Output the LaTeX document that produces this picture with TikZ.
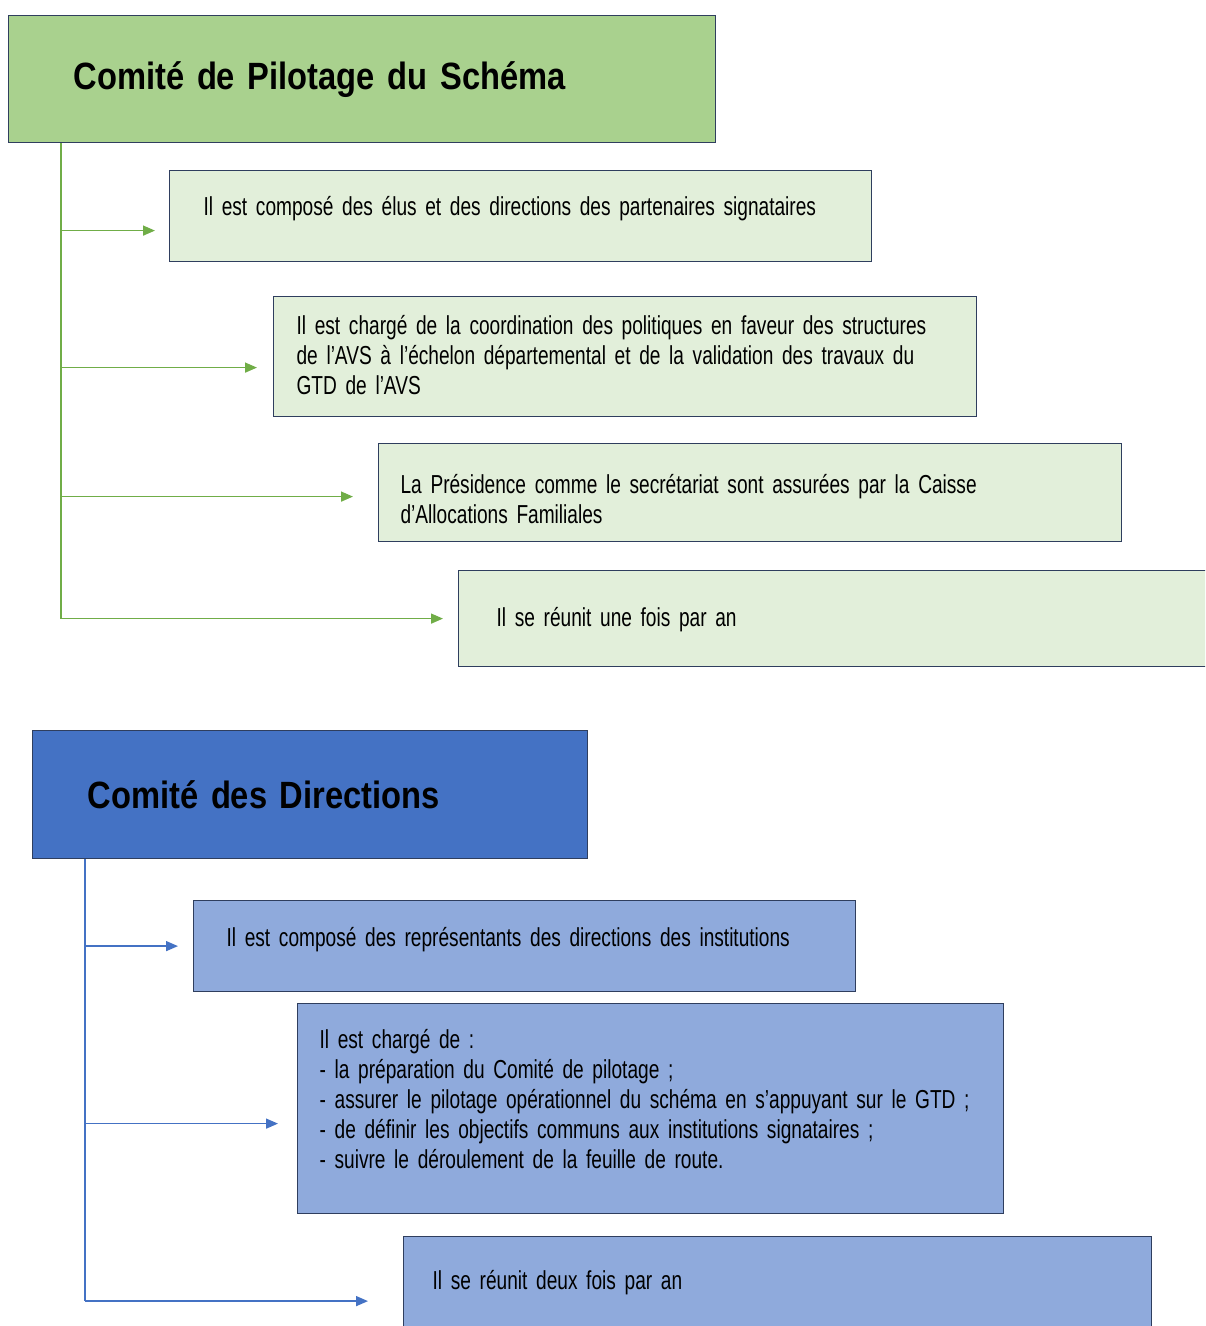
\documentclass[tikz,border=0pt]{standalone}
\usepackage{fontspec}
\newfontfamily\bodyfont{Liberation Sans}[FakeStretch=0.735]
\newfontfamily\titlefont{Liberation Sans}[FakeStretch=0.86]
\newcommand\bodytext{\bodyfont\fontsize{13}{15}\selectfont}
\newcommand\titletext{\titlefont\bfseries\fontsize{19}{23}\selectfont}
\usepackage{xcolor}
\usetikzlibrary{arrows.meta}
\definecolor{headgreen}{HTML}{A9D18E}
\definecolor{lightgreen}{HTML}{E2EFDA}
\definecolor{linegreen}{HTML}{70AD47}
\definecolor{headblue}{HTML}{4472C4}
\definecolor{lightblue}{HTML}{8FAADC}
\definecolor{lineblue}{HTML}{4472C4}
\definecolor{edge}{HTML}{2F3E5E}

\begin{document}
\begin{tikzpicture}[x=0.5pt, y=-0.5pt,
  box/.style={draw=edge, line width=0.6pt, anchor=north west, align=left, inner ysep=0pt, font=\bodytext},
  head/.style={box, font=\titletext},
  gline/.style={draw=linegreen, line width=0.75pt},
  garr/.style={gline, -{Triangle[length=6pt, width=5pt]}},
  bline/.style={draw=lineblue, line width=0.75pt},
  barr/.style={bline, -{Triangle[length=6pt, width=5pt]}}
]
  \useasboundingbox (0,0) rectangle (1205,1326);
  \clip (0,0) rectangle (1205,1326);

  \node[head, fill=headgreen, inner xsep=32.5pt, text width=288.5pt, minimum height=63.5pt] (pilot) at (8,15) {Comité de Pilotage du Schéma};
  \node[box, fill=lightgreen, inner xsep=17pt, text width=317pt, text height=22.5pt, text depth=23pt] (g1) at (169,170) {Il est composé des élus et des directions des partenaires signataires};
  \node[box, fill=lightgreen, inner xsep=11.5pt, text width=328.5pt, text height=19pt, text depth=41pt] (g2) at (273,296) {Il est chargé de la coordination des politiques en faveur des structures\\de l’AVS à l’échelon départemental et de la validation des travaux du\\GTD de l’AVS};
  \node[box, fill=lightgreen, inner xsep=11pt, text width=349.5pt, text height=25pt, text depth=24pt] (g3) at (378,443) {La Présidence comme le secrétariat sont assurées par la Caisse\\d’Allocations Familiales};
  \node[box, fill=lightgreen, inner xsep=19pt, text width=340.5pt, text height=28pt, text depth=20pt] (g4) at (458,570) {Il se réunit une fois par an};

  \node[head, fill=headblue, inner xsep=27.5pt, text width=222.5pt, minimum height=64pt] (direc) at (32,730) {Comité des Directions};
  \node[box, fill=lightblue, inner xsep=16.5pt, text width=298pt, text height=23pt, text depth=22.5pt] (b1) at (193,900) {Il est composé des représentants des directions des institutions};
  \node[box, fill=lightblue, inner xsep=11pt, text width=331pt, text height=22.5pt, text depth=82.5pt] (b2) at (297,1003) {Il est chargé de :\\- la préparation du Comité de pilotage ;\\- assurer le pilotage opérationnel du schéma en s’appuyant sur le GTD ;\\- de définir les objectifs communs aux institutions signataires ;\\- suivre le déroulement de la feuille de route.};
  \node[box, fill=lightblue, inner xsep=14.5pt, text width=345pt, text height=26.5pt, text depth=23.5pt] (b3) at (403,1236) {Il se réunit deux fois par an};

  \coordinate (gtop) at ([xshift=26.5pt]pilot.south west);
  \coordinate (g1in) at ([yshift=-7.25pt]g1.west);
  \coordinate (g2in) at ([yshift=-5.5pt]g2.west);
  \coordinate (g3in) at ([yshift=-2pt]g3.west);
  \coordinate (g4in) at (g4.west);
  \draw[gline] (gtop) -- (gtop |- g4in);
  \draw[garr, shorten >=7pt] (gtop |- g1in) -- (g1in);
  \draw[garr, shorten >=8pt] (gtop |- g2in) -- (g2in);
  \draw[garr, shorten >=12.5pt] (gtop |- g3in) -- (g3in);
  \draw[garr, shorten >=7.5pt] (gtop |- g4in) -- (g4in);

  \coordinate (btop) at ([xshift=26.5pt]direc.south west);
  \coordinate (b1in) at (b1.west);
  \coordinate (b2in) at ([yshift=-7.5pt]b2.west);
  \coordinate (b3in) at ([yshift=-7.25pt]b3.west);
  \draw[bline] (btop) -- (btop |- b3in);
  \draw[barr, shorten >=7.5pt] (btop |- b1in) -- (b1in);
  \draw[barr, shorten >=9.5pt] (btop |- b2in) -- (b2in);
  \draw[barr, shorten >=17.5pt] (btop |- b3in) -- (b3in);
\end{tikzpicture}
\end{document}
